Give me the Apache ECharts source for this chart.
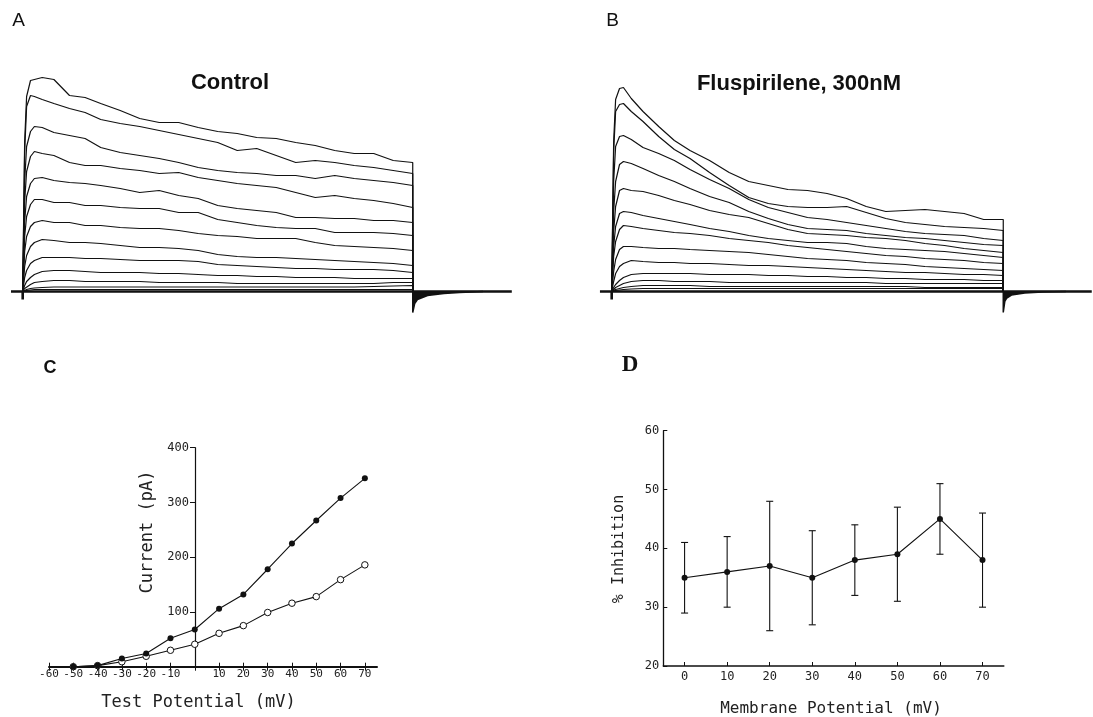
<!DOCTYPE html>
<html><head><meta charset="utf-8">
<script src="https://cdn.jsdelivr.net/npm/echarts@6/dist/echarts.min.js"></script>
<style>html,body{margin:0;padding:0;background:#fff}#c{width:1093px;height:717px}</style>
</head><body><div id="c"></div>
<script>
// ---- Panels A/B: current traces (amplitude above holding baseline, arbitrary units) ----
const TIME = [0,0.5,1,2,3,5,8,12,16,20,25,30,35,40,45,50,55,60,65,70,75,80,85,90,95,100];
const CONTROL_TRACES = [
  [0,150,195,211,212,214,212,196,194,188,181,173,169,169,164,160,158,154,153,149,146,141,138,138,131,129],
  [0,140,185,196,195,192,188,183,179,172,168,165,161,157,153,149,141,143,136,129,131,129,126,124,121,118],
  [0,110,145,160,165,164,159,156,153,144,139,136,133,129,124,121,119,118,116,116,113,116,113,111,109,106],
  [0,90,120,135,140,138,136,129,126,126,123,121,118,119,114,111,108,106,104,99,94,96,93,91,88,84],
  [0,70,95,108,113,114,111,109,108,106,103,99,101,96,93,86,83,81,79,74,74,73,73,71,71,69],
  [0,55,75,87,92,92,89,89,86,86,84,83,83,79,79,72,69,66,64,63,63,59,59,59,58,56],
  [0,40,55,65,69,71,69,69,66,66,64,63,63,61,58,56,55,53,53,53,49,46,45,44,43,41],
  [0,25,36,45,49,52,51,49,49,48,46,44,44,43,41,37,35,34,34,33,32,31,30,29,28,26],
  [0,14,21,28,31,34,34,34,33,33,32,31,31,31,30,27,26,25,24,23,23,22,22,22,21,19],
  [0,6,10,14,17,20,21,21,20,19,19,19,18,18,17,16,16,15,15,14,14,14,13,13,13,13],
  [0,3,5,7,9,10,11,11,10,10,10,10,9,9,9,9,8,8,8,8,8,8,8,8,9,9],
  [0,1,2,3,3.5,4,4.5,4.5,4.5,4.5,4.5,4.5,4.5,4.5,4.5,4.5,4.5,4.5,4.5,4.5,4.5,4.5,4.5,5,5.5,6],
  [0,0.5,1,1.5,2,2,2,2,2,2,2,2,2,2,2,2,2,2,2,2,2,2,2,2,2,2]
];
const FLUSP_TRACES = [
  [0,150,192,203,204,193,180,165,151,141,131,119,110,106,102,101,98,93,85,80,81,82,80,78,72,72],
  [0,140,180,187,188,180,170,155,142,133,119,106,94,88,85,84,84,85,79,73,69,67,65,64,63,61],
  [0,110,145,155,156,152,144,138,131,122,112,103,92,84,79,74,72,69,66,63,60,58,57,56,53,51],
  [0,80,110,127,130,128,123,116,110,103,95,89,80,73,67,63,62,61,58,56,54,53,51,49,47,46],
  [0,60,85,101,103,101,100,96,91,87,81,77,74,68,62,58,57,56,54,53,51,48,46,43,41,39],
  [0,45,65,78,80,79,76,73,70,67,63,60,56,53,51,49,49,48,45,43,42,41,40,38,36,34],
  [0,35,50,62,66,65,63,61,59,58,56,53,51,49,46,44,42,40,38,36,35,33,32,31,29,28],
  [0,20,32,42,45,45,44,43,43,42,41,40,39,37,35,33,32,31,29,28,27,25,24,23,22,21],
  [0,10,18,25,28,31,30,29,29,28,28,27,26,26,25,24,23,22,21,20,19,19,18,17,17,16],
  [0,4,7,11,14,17,18,18,18,18,17,17,17,16,16,15,15,14,14,13,13,12,12,12,11,11],
  [0,2,4,6,8,10,11,11,10,10,10,9,9,9,9,9,9,9,9,8,8,8,8,8,8,8],
  [0,1,2,3,4,5,6,6,6,6,5,5,5,5,5,5,5,5,5,5,5,4,4,4,4,4],
  [0,0.5,1,1.5,2,2.5,3,3,3,3,3,3,3,3,3,3,3,3,3,3,3,3,3,3,3,3]
];
const BASE_A_T = [-3,0,0,0,125.4];
const BASE_A_V = [0,0,-8,0,0];
const BASE_B_T = [-3,0,0,0,122.6];
const BASE_B_V = [0,0,-8,0,0];
const TAIL_A_T = [100,100,100.5,101.2,103.8,108,112,118];
const TAIL_A_V = [0,-21,-12,-8,-4,-2,-1,0];
const TAIL_B_T = [100,100,100.4,100.9,102.1,105.5,110,116];
const TAIL_B_V = [0,-21,-10,-6.5,-3.5,-1.5,-0.5,0];

// ---- Panel C: I-V relation ----
const TEST_POTENTIAL = [-50,-40,-30,-20,-10,0,10,20,30,40,50,60,70];
const CONTROL_IV = [0,2,15,24,52,68,106,132,178,225,267,308,344];
const FLUSP_IV = [0,2,9,19,30,41,61,75,99,116,128,159,186];
const C_X_TICKS = [-60,-50,-40,-30,-20,-10,0,10,20,30,40,50,60,70];

// ---- Panel D: % inhibition ----
const MEMBRANE_POTENTIAL = [0,10,20,30,40,50,60,70];
const INHIBITION = [35,36,37,35,38,39,45,38];
const INHIB_LOW = [29,30,26,27,32,31,39,30];
const INHIB_HIGH = [41,42,48,43,44,47,51,46];
const D_X_TICKS = [0,10,20,30,40,50,60,70];

const INK = '#111';
const MONO = '"DejaVu Sans Mono", monospace';
const pairs = (xs, ys) => xs.map((x, i) => [x, ys[i]]);

function traceSeries(traces, xi, yi) {
  return traces.map(v => ({
    type: 'line', xAxisIndex: xi, yAxisIndex: yi,
    data: pairs(TIME, v).concat([[100, 0]]),
    symbol: 'none', showSymbol: false, silent: true, animation: false,
    lineStyle: { color: INK, width: 1.2 }, z: 3
  }));
}
function baseSeries(bt, bv, tt, tv, xi, yi) {
  return [
    { type: 'line', xAxisIndex: xi, yAxisIndex: yi, data: pairs(bt, bv), symbol: 'none',
      silent: true, animation: false, lineStyle: { color: INK, width: 2.6 }, z: 4 },
    { type: 'line', xAxisIndex: xi, yAxisIndex: yi, data: pairs(tt, tv), symbol: 'none',
      silent: true, animation: false, lineStyle: { color: INK, width: 1.5 },
      areaStyle: { color: INK, opacity: 1 }, z: 4 }
  ];
}
const hiddenX = (min, max, gi) => ({ type: 'value', gridIndex: gi, min, max, show: false });
const hiddenY = (gi) => ({ type: 'value', gridIndex: gi, min: -25, max: 225, show: false });

const chart = echarts.init(document.getElementById('c'), null, { renderer: 'canvas' });
const option = {
  backgroundColor: '#fff',
  animation: false,
  grid: [
    { left: 11.0, top: 66.5, width: 500.8, height: 250 },
    { left: 599.95, top: 66.5, width: 491.8, height: 250 },
    { left: 49, top: 447.7, width: 328, height: 219 },
    { left: 663.3, top: 430.7, width: 340.5, height: 235.3 }
  ],
  xAxis: [
    hiddenX(-3, 125.4, 0),
    hiddenX(-3, 122.6, 1),
    { type: 'value', gridIndex: 2, position: 'bottom', min: -60, max: 75, interval: 10,
      splitLine: { show: false },
      axisLine: { onZero: false, lineStyle: { color: INK, width: 2 } },
      axisTick: { customValues: C_X_TICKS, length: 4, lineStyle: { color: INK, width: 1 } },
      axisLabel: { customValues: C_X_TICKS.filter(v => v !== 0), margin: 2, fontFamily: MONO,
        fontSize: 11, color: '#222' } },
    { type: 'value', gridIndex: 2, position: 'bottom', min: -60, max: 75, interval: 10,
      splitLine: { show: false }, axisLine: { show: false, onZero: false },
      axisTick: { customValues: C_X_TICKS, inside: true, length: 4, lineStyle: { color: INK, width: 1 } },
      axisLabel: { show: false } },
    { type: 'value', gridIndex: 3, position: 'bottom', min: -5, max: 75, interval: 10,
      splitLine: { show: false },
      axisLine: { onZero: false, lineStyle: { color: INK, width: 1.5 } },
      axisTick: { customValues: D_X_TICKS, inside: true, length: 4, lineStyle: { color: INK } },
      axisLabel: { customValues: D_X_TICKS, margin: 5, fontFamily: MONO, fontSize: 12, color: '#222' } }
  ],
  yAxis: [
    hiddenY(0),
    hiddenY(1),
    // y axis drawn through x = 0 mV (grid left is -60 mV; 146 px to the right)
    { type: 'value', gridIndex: 2, position: 'left', offset: -146, min: 0, max: 400, interval: 100,
      splitLine: { show: false },
      axisLine: { onZero: false, lineStyle: { color: INK, width: 1.2 } },
      axisTick: { length: 5, lineStyle: { color: INK } },
      axisLabel: { margin: 6, fontFamily: MONO, fontSize: 12, color: '#222',
        formatter: v => (v === 0 ? '' : String(v)) } },
    { type: 'value', gridIndex: 3, min: 20, max: 60, interval: 10, splitLine: { show: false },
      axisLine: { onZero: false, lineStyle: { color: INK, width: 1.3 } },
      axisTick: { inside: true, length: 4, lineStyle: { color: INK } },
      axisLabel: { margin: 4, fontFamily: MONO, fontSize: 12, color: '#222' } }
  ],
  series: [
    ...baseSeries(BASE_A_T, BASE_A_V, TAIL_A_T, TAIL_A_V, 0, 0),
    ...traceSeries(CONTROL_TRACES, 0, 0),
    ...baseSeries(BASE_B_T, BASE_B_V, TAIL_B_T, TAIL_B_V, 1, 1),
    ...traceSeries(FLUSP_TRACES, 1, 1),
    { name: 'Fluspirilene', type: 'line', xAxisIndex: 2, yAxisIndex: 2,
      data: pairs(TEST_POTENTIAL, FLUSP_IV), symbol: 'circle', symbolSize: 6.5, showSymbol: true,
      lineStyle: { color: INK, width: 1.1 }, itemStyle: { color: '#fff', borderColor: INK, borderWidth: 1 }, z: 5 },
    { name: 'Control', type: 'line', xAxisIndex: 2, yAxisIndex: 2,
      data: pairs(TEST_POTENTIAL, CONTROL_IV), symbol: 'circle', symbolSize: 6, showSymbol: true,
      lineStyle: { color: INK, width: 1.1 }, itemStyle: { color: INK }, z: 6 },
    { type: 'custom', xAxisIndex: 4, yAxisIndex: 3,
      data: MEMBRANE_POTENTIAL.map((x, i) => [x, INHIB_LOW[i], INHIB_HIGH[i]]),
      encode: { x: 0, y: [1, 2] }, z: 4, silent: true,
      renderItem: (params, api) => {
        const x = api.value(0);
        const lo = api.coord([x, api.value(1)]);
        const hi = api.coord([x, api.value(2)]);
        const w = 3.5, st = { stroke: INK, lineWidth: 1.1 };
        return { type: 'group', children: [
          { type: 'line', shape: { x1: lo[0], y1: lo[1], x2: hi[0], y2: hi[1] }, style: st },
          { type: 'line', shape: { x1: lo[0] - w, y1: lo[1], x2: lo[0] + w, y2: lo[1] }, style: st },
          { type: 'line', shape: { x1: hi[0] - w, y1: hi[1], x2: hi[0] + w, y2: hi[1] }, style: st }
        ] };
      } },
    { type: 'line', xAxisIndex: 4, yAxisIndex: 3, data: pairs(MEMBRANE_POTENTIAL, INHIBITION),
      symbol: 'circle', symbolSize: 6, showSymbol: true, lineStyle: { color: INK, width: 1.1 },
      itemStyle: { color: INK }, z: 6 }
  ],
  graphic: [
    { type: 'text', x: 18.5, y: 21, style: { text: 'A', font: '19px "Liberation Sans", Arial, sans-serif', fill: INK, textAlign: 'center', textVerticalAlign: 'middle' } },
    { type: 'text', x: 612.5, y: 21, style: { text: 'B', font: '19px "Liberation Sans", Arial, sans-serif', fill: INK, textAlign: 'center', textVerticalAlign: 'middle' } },
    { type: 'text', x: 230, y: 83, style: { text: 'Control', font: 'bold 22px "Liberation Sans", Arial, sans-serif', fill: INK, textAlign: 'center', textVerticalAlign: 'middle' } },
    { type: 'text', x: 799, y: 84, style: { text: 'Fluspirilene, 300nM', font: 'bold 22px "Liberation Sans", Arial, sans-serif', fill: INK, textAlign: 'center', textVerticalAlign: 'middle' } },
    { type: 'text', x: 50, y: 368, style: { text: 'C', font: 'bold 18px "Liberation Sans", Arial, sans-serif', fill: INK, textAlign: 'center', textVerticalAlign: 'middle' } },
    { type: 'text', x: 630, y: 365, style: { text: 'D', font: 'bold 23px "Liberation Serif", serif', fill: INK, textAlign: 'center', textVerticalAlign: 'middle' } },
    { type: 'text', x: 148, y: 532, rotation: Math.PI / 2, style: { text: 'Current (pA)', font: '17px ' + MONO, fill: '#222', textAlign: 'center', textVerticalAlign: 'middle' } },
    { type: 'text', x: 198.5, y: 703, style: { text: 'Test Potential (mV)', font: '17px ' + MONO, fill: '#222', textAlign: 'center', textVerticalAlign: 'middle' } },
    { type: 'text', x: 619, y: 549, rotation: Math.PI / 2, style: { text: '% Inhibition', font: '15px ' + MONO, fill: '#222', textAlign: 'center', textVerticalAlign: 'middle' } },
    { type: 'text', x: 831, y: 709, style: { text: 'Membrane Potential (mV)', font: '16px ' + MONO, fill: '#222', textAlign: 'center', textVerticalAlign: 'middle' } }
  ]
};
chart.setOption(option);
</script>
</body></html>
